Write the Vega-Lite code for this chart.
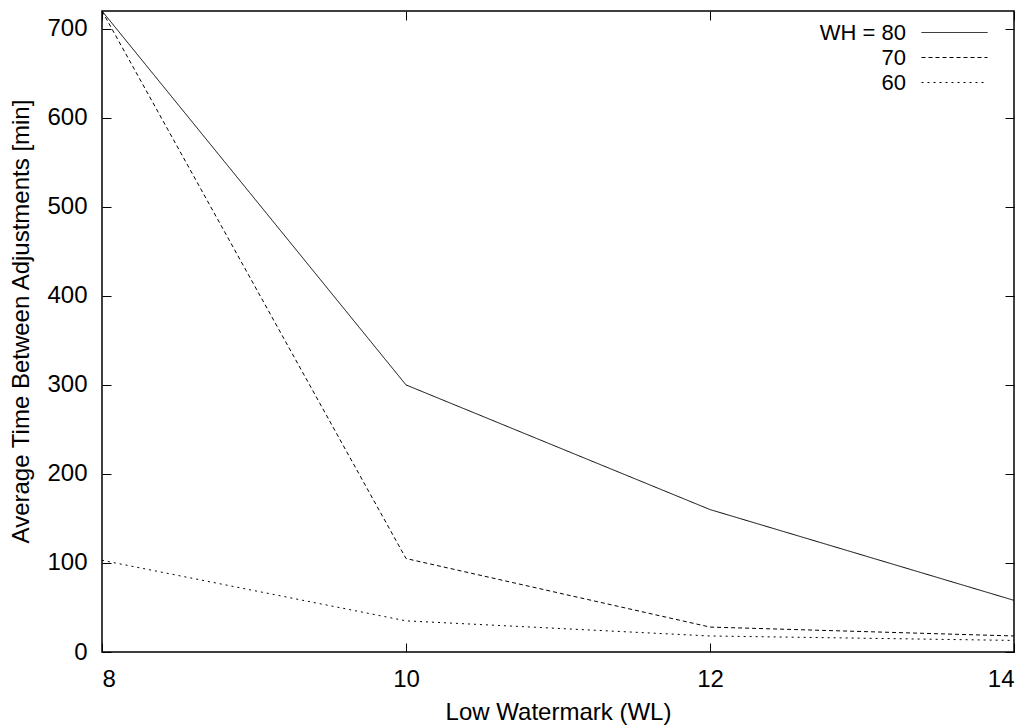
{
  "$schema": "https://vega.github.io/schema/vega-lite/v6.json",
  "width": 912,
  "height": 641,
  "autosize": {"type": "none"},
  "padding": {"left": 102, "top": 11, "right": 21, "bottom": 74},
  "background": "white",
  "config": {
    "font": "Liberation Sans",
    "view": {"stroke": "black", "strokeWidth": 1.5},
    "axis": {"grid": false, "domain": false, "tickColor": "black", "labelColor": "black", "titleColor": "black", "labelFontSize": 24, "titleFontSize": 24, "titleFontWeight": "normal", "tickSize": -9, "tickWidth": 1}
  },
  "data": {"values": [
    {"WL": 8, "WH": "80", "time": 720},
    {"WL": 10, "WH": "80", "time": 300},
    {"WL": 12, "WH": "80", "time": 160},
    {"WL": 14, "WH": "80", "time": 58},
    {"WL": 8, "WH": "70", "time": 720},
    {"WL": 10, "WH": "70", "time": 105},
    {"WL": 12, "WH": "70", "time": 28},
    {"WL": 14, "WH": "70", "time": 18},
    {"WL": 8, "WH": "60", "time": 103},
    {"WL": 10, "WH": "60", "time": 35},
    {"WL": 12, "WH": "60", "time": 18},
    {"WL": 14, "WH": "60", "time": 13}
  ]},
  "layer": [
    {
      "mark": {"type": "line", "color": "black", "strokeWidth": 1, "clip": true},
      "encoding": {
        "x": {"field": "WL", "type": "quantitative", "scale": {"domain": [8, 14], "nice": false, "zero": false},
              "axis": {"values": [8, 10, 12, 14], "title": "Low Watermark (WL)", "labelPadding": 24, "titlePadding": 9}},
        "y": {"field": "time", "type": "quantitative", "scale": {"domain": [0, 720], "nice": false},
              "axis": {"values": [0, 100, 200, 300, 400, 500, 600, 700], "title": "Average Time Between Adjustments [min]", "labelPadding": 24, "titlePadding": 13, "titleY": 310}},
        "strokeDash": {"field": "WH", "type": "nominal",
          "scale": {"domain": ["80", "70", "60"], "range": [[1, 0], [4, 3], [2, 4]]},
          "legend": {"title": null, "orient": "none", "legendX": 841, "legendY": 10, "padding": 0, "rowPadding": 2,
            "symbolType": "M-3,0L3,0", "symbolSize": 484, "symbolStrokeColor": "black", "symbolStrokeWidth": 1,
            "labelFontSize": 22, "labelAlign": "right", "labelOffset": -60, "labelColor": "black",
            "labelExpr": "datum.label == '80' ? 'WH = 80' : datum.label"}}
      }
    },
    {
      "mark": {"type": "line", "opacity": 0},
      "encoding": {
        "x": {"field": "WL", "type": "quantitative", "axis": {"orient": "top", "values": [8, 10, 12, 14], "labels": false, "title": null}},
        "y": {"field": "time", "type": "quantitative", "axis": {"orient": "right", "values": [0, 100, 200, 300, 400, 500, 600, 700], "labels": false, "title": null}},
        "detail": {"field": "WH"}
      }
    }
  ],
  "resolve": {"axis": {"x": "independent", "y": "independent"}}
}
